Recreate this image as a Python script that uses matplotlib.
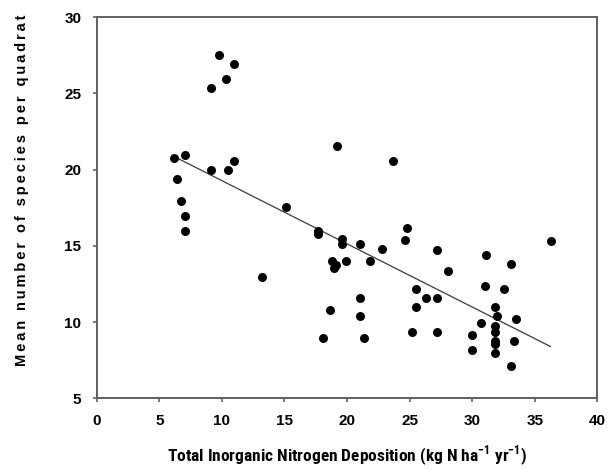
import numpy as np
import matplotlib
matplotlib.use('Agg')
import matplotlib.pyplot as plt

plt.rcParams['mathtext.fontset'] = 'custom'
plt.rcParams['mathtext.rm'] = 'Roboto Condensed'
plt.rcParams['mathtext.bf'] = 'Roboto Condensed:bold'

# deposition (kg N/ha/yr) and mean species per quadrat
deposition = [6.15, 7.03, 6.44, 6.7, 7.03, 7.03, 9.1, 10.49, 10.94, 9.1,
              9.79, 10.35, 10.94, 13.18, 15.14, 17.65, 17.65, 19.19, 23.67, 19.62,
              19.62, 21.0, 22.81, 24.78, 24.65, 18.79, 19.11, 18.95, 19.91, 21.85,
              25.5, 26.33, 21.0, 25.53, 18.61, 21.0, 18.1, 21.33, 25.21, 36.26,
              27.2, 31.09, 33.07, 28.03, 30.99, 32.51, 27.2, 31.81, 31.95, 33.52,
              30.67, 31.81, 31.81, 27.2, 29.98, 33.35, 31.81, 31.81, 29.98, 31.81,
              33.07]
species = [20.76, 20.96, 19.36, 17.96, 16.95, 15.95, 19.95, 19.95, 20.54, 25.34,
           27.5, 25.93, 26.93, 12.95, 17.54, 15.97, 15.75, 21.55, 20.54, 15.42,
           15.1, 15.13, 14.77, 16.17, 15.38, 13.98, 13.74, 13.52, 13.98, 13.98,
           12.16, 11.55, 11.55, 10.96, 10.76, 10.39, 8.96, 8.96, 9.36, 15.31,
           14.74, 14.37, 13.78, 13.34, 12.38, 12.16, 11.57, 10.96, 10.37, 10.17,
           9.97, 9.73, 9.38, 9.38, 9.16, 8.77, 8.77, 8.55, 8.17, 7.94,
           7.15]

xticks = [0, 5, 10, 15, 20, 25, 30, 35, 40]
yticks = [5, 10, 15, 20, 25, 30]

x = np.array(deposition)
y = np.array(species)

fig = plt.figure(figsize=(6.09, 4.70), dpi=100)
ax = fig.add_axes([0.1588, 0.1526, 0.8220, 0.8106])

ax.scatter(x, y, s=42, color='black', zorder=3, linewidths=0)

# least squares line over the data range
b, a = np.polyfit(x, y, 1)
xl = np.array([x.min(), x.max()])
ax.plot(xl, a + b * xl, color='#3a3a3a', lw=0.9, zorder=2)

ax.set_xlim(0, 40)
ax.set_ylim(5, 30)
ax.set_xticks(xticks)
ax.set_yticks(yticks)

for sp in ax.spines.values():
    sp.set_color('#606060')
    sp.set_linewidth(1.4)
ax.tick_params(direction='out', length=3, width=1.2, color='#606060', pad=8)
for lab in ax.get_xticklabels() + ax.get_yticklabels():
    lab.set_family('Liberation Sans')
    lab.set_fontweight('bold')
    lab.set_fontsize(11)

ax.set_xlabel('Total Inorganic Nitrogen Deposition (kg N ha$^{\\mathbf{-1}}$ yr$^{\\mathbf{-1}}$)',
              family=['Roboto Condensed', 'Liberation Sans'], fontweight='bold',
              fontsize=12.5, labelpad=12)
ylab = '\u2009'.join('Mean number of species per quadrat')
ax.set_ylabel(ylab, family='Liberation Sans', fontweight='bold', fontsize=10.5)
ax.yaxis.set_label_coords(-0.135, 0.545)

fig.savefig('out.png', dpi=100)
